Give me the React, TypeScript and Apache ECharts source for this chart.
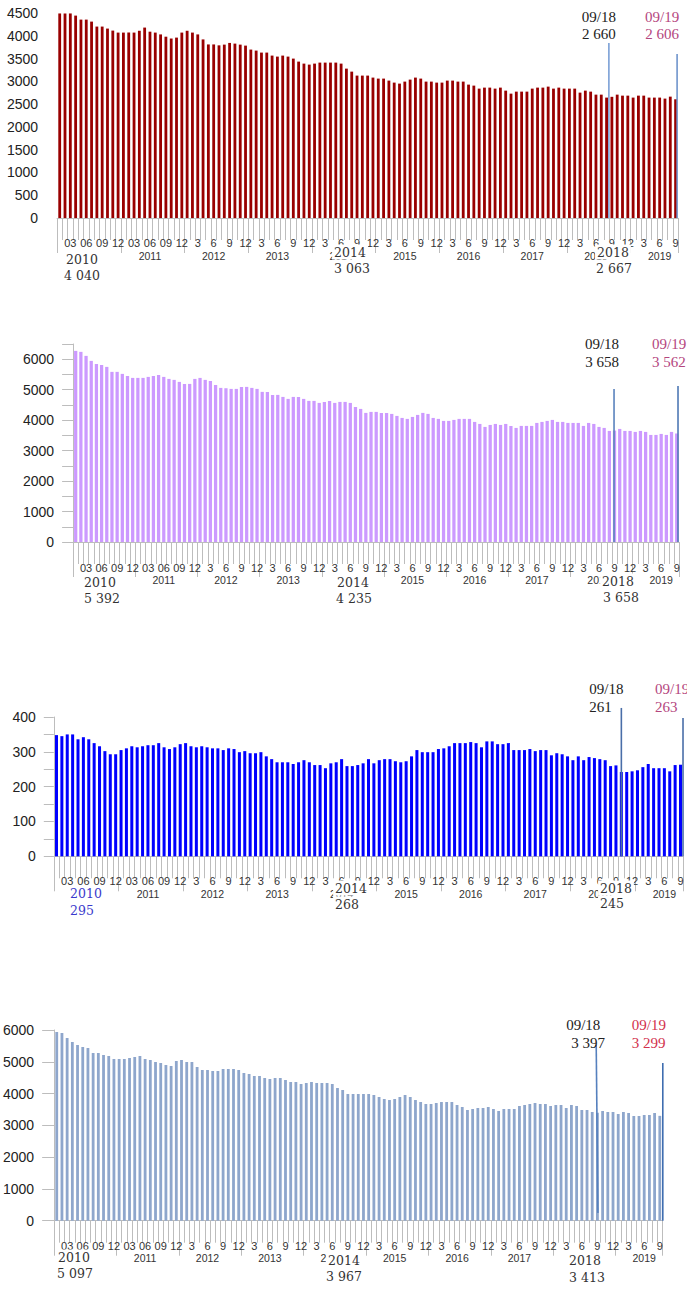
import React, { useEffect, useRef } from "react";
import * as echarts from "echarts";

// ---------- DATA ----------
const START_YEAR = 2010;
const MONTH_COUNT = 117; // Jan 2010 .. Sep 2019
const categories: string[] = Array.from({ length: MONTH_COUNT }, (_, i) =>
  `${START_YEAR + Math.floor(i / 12)}-${String((i % 12) + 1).padStart(2, "0")}`
);

const panel1Values = [
  4490, 4490, 4490, 4443, 4355, 4355, 4311, 4202, 4202, 4158, 4114, 4070,
  4070, 4070, 4070, 4110, 4180, 4090, 4070, 4030, 3980, 3940, 3960, 4070,
  4110, 4070, 4030, 3920, 3810, 3810, 3790, 3806, 3843, 3828, 3806, 3784,
  3697, 3675, 3631, 3631, 3565, 3543, 3565, 3543, 3499, 3433, 3389, 3367,
  3389, 3411, 3411, 3411, 3411, 3389, 3279, 3213, 3126, 3126, 3126, 3082,
  3060, 3060, 3016, 2972, 2950, 2994, 3038, 3082, 3060, 2994, 2994, 2972,
  2972, 3016, 3016, 2994, 2994, 2928, 2906, 2840, 2862, 2862, 2840, 2862,
  2796, 2730, 2774, 2774, 2774, 2840, 2862, 2862, 2884, 2840, 2862, 2840,
  2840, 2840, 2752, 2796, 2774, 2708, 2708, 2643, 2660, 2708, 2686, 2686,
  2643, 2686, 2686, 2643, 2643, 2643, 2621, 2664, 2606,
];

const panel2Values = [
  6274, 6242, 6110, 5946, 5847, 5814, 5749, 5585, 5585, 5519, 5453, 5387,
  5387, 5387, 5420, 5453, 5486, 5420, 5354, 5322, 5256, 5190, 5190, 5354,
  5387, 5322, 5289, 5157, 5059, 5048, 5026, 5026, 5092, 5092, 5059, 5026,
  4928, 4928, 4829, 4829, 4763, 4698, 4763, 4763, 4698, 4632, 4632, 4566,
  4599, 4632, 4566, 4599, 4599, 4566, 4435, 4369, 4238, 4271, 4271, 4238,
  4238, 4205, 4139, 4073, 4041, 4106, 4172, 4238, 4205, 4073, 4041, 3975,
  3975, 4008, 4041, 4041, 4041, 3942, 3876, 3778, 3843, 3876, 3843, 3876,
  3811, 3745, 3811, 3811, 3811, 3909, 3942, 3975, 4008, 3942, 3942, 3909,
  3909, 3909, 3811, 3909, 3876, 3778, 3745, 3646, 3658, 3712, 3646, 3646,
  3614, 3646, 3614, 3515, 3515, 3548, 3515, 3614, 3562,
];

const panel3Values = [
  348, 345, 350, 350, 336, 342, 336, 325, 316, 302, 293, 293,
  305, 310, 316, 313, 316, 319, 319, 325, 313, 308, 313, 322,
  325, 316, 313, 316, 313, 310, 310, 305, 310, 308, 299, 302,
  296, 296, 299, 287, 279, 270, 270, 270, 265, 270, 276, 270,
  262, 262, 253, 267, 270, 279, 259, 259, 262, 267, 279, 267,
  276, 279, 279, 273, 270, 273, 287, 305, 299, 299, 299, 308,
  310, 316, 325, 325, 325, 328, 325, 313, 330, 330, 322, 322,
  325, 305, 305, 305, 308, 302, 305, 305, 290, 296, 293, 287,
  276, 287, 276, 285, 282, 279, 276, 259, 261, 242, 242, 244,
  247, 256, 265, 253, 253, 253, 244, 262, 263,
];

const panel4Values = [
  5937, 5906, 5749, 5623, 5528, 5465, 5434, 5276, 5276, 5214, 5182, 5088,
  5088, 5088, 5119, 5151, 5182, 5088, 5056, 4993, 4962, 4899, 4867, 5025,
  5056, 4993, 4993, 4836, 4741, 4741, 4710, 4710, 4773, 4773, 4773, 4741,
  4647, 4616, 4553, 4553, 4490, 4458, 4490, 4490, 4427, 4364, 4364, 4301,
  4332, 4364, 4332, 4332, 4332, 4301, 4175, 4112, 3986, 3986, 3986, 3986,
  3986, 3955, 3892, 3829, 3797, 3829, 3892, 3955, 3892, 3797, 3734, 3672,
  3672, 3703, 3734, 3734, 3734, 3640, 3577, 3483, 3514, 3546, 3546, 3577,
  3514, 3451, 3514, 3514, 3514, 3609, 3640, 3672, 3703, 3672, 3672, 3609,
  3640, 3640, 3546, 3640, 3609, 3483, 3483, 3420, 3397, 3451, 3420, 3420,
  3357, 3420, 3388, 3294, 3294, 3325, 3325, 3388, 3299,
];

// annotation texts
const yearNoteYears = ["2010", "2014", "2018"];
const panel1YearNotes = ["4 040", "3 063", "2 667"];
const panel2YearNotes = ["5 392", "4 235", "3 658"];
const panel3YearNotes = ["295", "268", "245"];
const panel4YearNotes = ["5 097", "3 967", "3 413"];

const markMonths = ["2018-09", "2019-09"];
const markLabels = ["09/18", "09/19"];
const panel1MarkValues = ["2 660", "2 606"];
const panel2MarkValues = ["3 658", "3 562"];
const panel3MarkValues = ["261", "263"];
const panel4MarkValues = ["3 397", "3 299"];

// ---------- LAYOUT / STYLE ----------
const SANS = "Liberation Sans, Arial, sans-serif";
const SERIF_TOP = "Liberation Serif, Times New Roman, serif";
const SERIF_YEAR = "DejaVu Serif, serif";

type MarkCfg = {
  dx1: number; dx2: number; top: number; bottom: number;
  lineColor: string; textColor: string;
  align: "center" | "left"; tdx1: number; tdx2: number; ty1: number; ty2: number;
};
type NoteCfg = { x1: number; y1: number; x2: number; y2: number; color: string };

const panels = [
  {
    values: panel1Values, color: "#990000", barWidth: "53%",
    left: 57.05, width: 621.2, top: 13, height: 205,
    yMax: 4500, yInterval: 500, labelEvery: 500, yAxisLine: false, yTickLen: 0, yMargin: 19,
    monthMargin: 19,
    marks: [
      { dx1: -3, dx2: -3, top: 3840, bottom: 0, lineColor: "#7ba0d6", textColor: "#222", align: "center", tdx1: -10, tdx2: -10, ty1: 17, ty2: 34 },
      { dx1: 1.5, dx2: 1.5, top: 3600, bottom: 0, lineColor: "#6f94cc", textColor: "#b4467e", align: "center", tdx1: -15, tdx2: -15, ty1: 17, ty2: 34 },
    ] as MarkCfg[],
    markValues: panel1MarkValues,
    yearNotes: panel1YearNotes,
    notes: [
      { x1: 82, y1: 259, x2: 82, y2: 275, color: "#333" },
      { x1: 350, y1: 252, x2: 352, y2: 268, color: "#333" },
      { x1: 613, y1: 252, x2: 614, y2: 268, color: "#333" },
    ] as NoteCfg[],
  },
  {
    values: panel2Values, color: "#cc99ff", barWidth: "63%",
    left: 73.1, width: 606.2, top: 344, height: 198,
    yMax: 6500, yInterval: 500, labelEvery: 1000, yAxisLine: true, yTickLen: 11, yMargin: 19,
    monthMargin: 20,
    marks: [
      { dx1: -0.5, dx2: -0.5, top: 5020, bottom: 0, lineColor: "#5a82bd", textColor: "#222", align: "center", tdx1: -12, tdx2: -12, ty1: 344, ty2: 362 },
      { dx1: 1.3, dx2: 1.3, top: 5120, bottom: 0, lineColor: "#4f78b5", textColor: "#b4467e", align: "left", tdx1: -26, tdx2: -26, ty1: 344, ty2: 362 },
    ] as MarkCfg[],
    markValues: panel2MarkValues,
    yearNotes: panel2YearNotes,
    notes: [
      { x1: 100, y1: 582, x2: 102, y2: 598, color: "#333" },
      { x1: 353, y1: 582, x2: 354, y2: 598, color: "#333" },
      { x1: 618, y1: 581, x2: 621, y2: 597, color: "#333" },
    ] as NoteCfg[],
  },
  {
    values: panel3Values, color: "#0000ff", barWidth: "56%",
    left: 53.8, width: 629.4, top: 717, height: 139.3,
    yMax: 400, yInterval: 50, labelEvery: 100, yAxisLine: true, yTickLen: 10, yMargin: 18,
    monthMargin: 19,
    marks: [
      { dx1: 5.4, dx2: 5.4, top: 426, bottom: 0, lineColor: "#4a6ea8", textColor: "#222", align: "left", tdx1: -32, tdx2: -32, ty1: 689, ty2: 707 },
      { dx1: 2.5, dx2: 2.5, top: 397, bottom: 0, lineColor: "#4a6ea8", textColor: "#b4467e", align: "left", tdx1: -28, tdx2: -28, ty1: 689, ty2: 707 },
    ] as MarkCfg[],
    markValues: panel3MarkValues,
    yearNotes: panel3YearNotes,
    notes: [
      { x1: 86, y1: 893, x2: 82, y2: 910, color: "#3a3acc" },
      { x1: 351, y1: 888, x2: 347, y2: 904, color: "#333" },
      { x1: 616, y1: 888, x2: 612, y2: 903, color: "#333" },
    ] as NoteCfg[],
  },
  {
    values: panel4Values, color: "#8ea6cc", barWidth: "54%",
    left: 52.1, width: 610.3, top: 1030, height: 190.7,
    yMax: 6000, yInterval: 1000, labelEvery: 1000, yAxisLine: true, yTickLen: 12, yMargin: 20,
    monthMargin: 20,
    marks: [
      { dx1: -1.2, dx2: 0.5, top: 5528, bottom: 242, lineColor: "#5580be", textColor: "#222", align: "center", tdx1: -13, tdx2: -8, ty1: 1025, ty2: 1043 },
      { dx1: 3, dx2: 3, top: 4962, bottom: 0, lineColor: "#3f6db0", textColor: "#d2304c", align: "left", tdx1: -31, tdx2: -31, ty1: 1025, ty2: 1043 },
    ] as MarkCfg[],
    markValues: panel4MarkValues,
    yearNotes: panel4YearNotes,
    notes: [
      { x1: 74, y1: 1257, x2: 75, y2: 1273, color: "#333" },
      { x1: 344, y1: 1260, x2: 344, y2: 1276, color: "#333" },
      { x1: 585, y1: 1260, x2: 587, y2: 1277, color: "#333" },
    ] as NoteCfg[],
  },
];

const TICK_COLOR = "#bdbdbd";

function monthLabel(v: string): string {
  const [y, m] = v.split("-");
  return Number(y) <= 2011 ? m : String(Number(m));
}

export default function App() {
  const ref = useRef<HTMLDivElement>(null);

  useEffect(() => {
    document.body.style.margin = "0";
    if (!ref.current) return;
    const chart = echarts.init(ref.current, null, { renderer: "svg" });

    const grid: any[] = [];
    const xAxis: any[] = [];
    const yAxis: any[] = [];
    const series: any[] = [];

    panels.forEach((p, k) => {
      grid.push({ left: p.left, top: p.top, width: p.width, height: p.height, containLabel: false });
      xAxis.push({
        type: "category", gridIndex: k, data: categories, position: "bottom",
        axisLine: { show: true, lineStyle: { color: TICK_COLOR } },
        axisTick: { show: true, interval: 0, length: 22, lineStyle: { color: TICK_COLOR } },
        axisLabel: {
          interval: (i: number) => i % 3 === 2,
          formatter: (v: string) => monthLabel(v),
          margin: p.monthMargin, fontSize: 11, color: "#333", fontFamily: SANS,
        },
        splitLine: { show: false },
      });
      xAxis.push({
        type: "category", gridIndex: k, data: categories, position: "bottom",
        axisLine: { show: false },
        axisTick: { show: true, interval: (i: number) => i % 12 === 0, length: 35, lineStyle: { color: TICK_COLOR } },
        axisLabel: {
          interval: (i: number) => i % 12 === 5 && i >= 12,
          formatter: (v: string) => v.split("-")[0],
          margin: 32, fontSize: 10.5, color: "#333", fontFamily: SANS,
        },
        splitLine: { show: false },
      });
      yAxis.push({
        type: "value", gridIndex: k, min: 0, max: p.yMax, interval: p.yInterval,
        axisLine: { show: p.yAxisLine, lineStyle: { color: TICK_COLOR } },
        axisTick: { show: p.yTickLen > 0, length: p.yTickLen, lineStyle: { color: TICK_COLOR } },
        splitLine: { show: false },
        axisLabel: {
          formatter: (v: number) => (v % p.labelEvery === 0 ? String(v) : ""),
          margin: p.yMargin, fontSize: 14, color: "#222", fontFamily: SANS,
        },
      });
      series.push({
        type: "bar", xAxisIndex: 2 * k, yAxisIndex: k, data: p.values,
        barWidth: p.barWidth, itemStyle: { color: p.color }, silent: true,
      });
    });

    chart.setOption({
      animation: false,
      grid, xAxis, yAxis, series,
    });

    const elements: any[] = [];
    panels.forEach((p, k) => {
      p.marks.forEach((m, j) => {
        const cx = chart.convertToPixel({ xAxisIndex: 2 * k }, markMonths[j]) as number;
        const yTop = chart.convertToPixel({ yAxisIndex: k }, m.top) as number;
        const yBot = chart.convertToPixel({ yAxisIndex: k }, m.bottom) as number;
        elements.push({
          type: "line", z: 100,
          shape: { x1: cx + m.dx1, y1: yTop, x2: cx + m.dx2, y2: yBot },
          style: { stroke: m.lineColor, lineWidth: 1.6 },
        });
        const lx = cx + m.dx1;
        [
          { t: markLabels[j], x: lx + m.tdx1, y: m.ty1 },
          { t: p.markValues[j], x: lx + m.tdx2, y: m.ty2 },
        ].forEach((tt) => {
          elements.push({
            type: "text", z: 100, x: tt.x, y: tt.y,
            style: {
              text: tt.t, fill: m.textColor, fontSize: 15, fontFamily: SERIF_TOP,
              align: m.align, verticalAlign: "middle",
              textAlign: m.align, textVerticalAlign: "middle",
            },
          });
        });
      });
      p.notes.forEach((n, j) => {
        [
          { t: yearNoteYears[j], x: n.x1, y: n.y1 },
          { t: p.yearNotes[j], x: n.x2, y: n.y2 },
        ].forEach((tt) => {
          elements.push({
            type: "text", z: 101, x: tt.x, y: tt.y,
            style: {
              text: tt.t, fill: n.color, fontSize: 12.5, fontFamily: SERIF_YEAR,
              align: "center", verticalAlign: "middle",
              textAlign: "center", textVerticalAlign: "middle",
              backgroundColor: "#fff", padding: [1, 2],
            },
          });
        });
      });
    });

    chart.setOption({ graphic: { elements } });

    return () => chart.dispose();
  }, []);

  return (
    <div
      ref={ref}
      style={{ position: "absolute", left: 0, top: 0, width: 687, height: 1292, background: "#fff" }}
    />
  );
}
